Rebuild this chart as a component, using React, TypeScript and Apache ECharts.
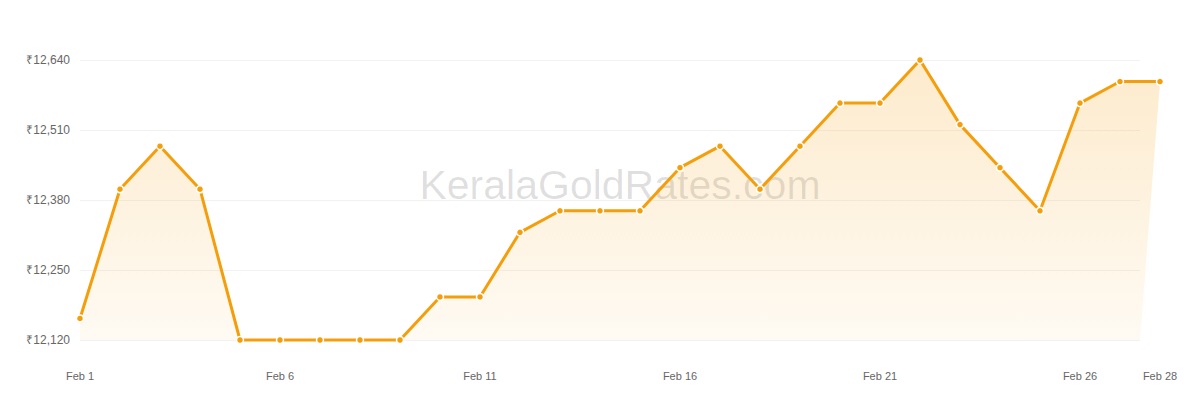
import { useEffect, useRef } from "react";
import * as echarts from "echarts";

// Gold price, 22K per gram, February
const days = [
  1, 2, 3, 4, 5, 6, 7, 8, 9, 10, 11, 12, 13, 14, 15, 16, 17, 18, 19, 20, 21,
  22, 23, 24, 25, 26, 27, 28,
];
const prices = [
  12160, 12400, 12480, 12400, 12120, 12120, 12120, 12120, 12120, 12200, 12200,
  12320, 12360, 12360, 12360, 12440, 12480, 12400, 12480, 12560, 12560, 12640,
  12520, 12440, 12360, 12560, 12600, 12600,
];
const yTicks = [12120, 12250, 12380, 12510, 12640];
const xTickDays = [1, 6, 11, 16, 21, 26, 28];
const monthName = "Feb";
const watermark = "KeralaGoldRates.com";

const FONT = "'Liberation Sans', Arial, Helvetica, sans-serif";
const GOLD = "#f59e0b";
const LABEL = "#666666";

export default function App() {
  const containerRef = useRef<HTMLDivElement>(null);

  useEffect(() => {
    if (!containerRef.current) return;
    const chart = echarts.init(containerRef.current, null, { renderer: "svg" });

    const points = days.map((d, i) => [d, prices[i]]);
    const yMin = yTicks[0];
    const yMax = yTicks[yTicks.length - 1];
    const firstDay = days[0];
    const lastDay = days[days.length - 1];
    // the gridlines stop half a day before the last point; the fill closes there
    const gridEnd = lastDay - 0.5;

    chart.setOption({
      animation: false,
      backgroundColor: "#ffffff",
      textStyle: { fontFamily: FONT },
      grid: [
        // y labels + gridlines
        { left: 80, right: 60, top: 60, bottom: 60 },
        // series + x labels
        { left: 80, right: 40, top: 60, bottom: 60 },
      ],
      graphic: [
        {
          type: "text",
          x: 620,
          y: 185,
          z: 0,
          silent: true,
          style: {
            text: watermark,
            fill: "rgba(0,0,0,0.13)",
            fontSize: 41,
            fontFamily: FONT,
            align: "center",
            verticalAlign: "middle",
          },
        },
      ],
      xAxis: [
        {
          type: "value",
          gridIndex: 0,
          min: firstDay,
          max: gridEnd,
          show: false,
        },
        {
          type: "value",
          gridIndex: 1,
          min: firstDay,
          max: lastDay,
          axisLine: { show: false },
          axisTick: { show: false, customValues: xTickDays },
          splitLine: { show: false },
          axisLabel: {
            customValues: xTickDays,
            showMinLabel: true,
            showMaxLabel: true,
            formatter: (v: number) => `${monthName} ${v}`,
            color: LABEL,
            fontSize: 11,
            fontFamily: FONT,
            margin: 30,
          },
        },
      ],
      yAxis: [
        {
          type: "value",
          gridIndex: 0,
          min: yMin,
          max: yMax,
          axisLine: { show: false },
          axisTick: { show: false, customValues: yTicks },
          axisLabel: {
            customValues: yTicks,
            showMinLabel: true,
            showMaxLabel: true,
            formatter: (v: number) => "₹" + v.toLocaleString("en-US"),
            color: LABEL,
            fontSize: 12,
            fontFamily: FONT,
            margin: 10,
          },
          splitLine: { lineStyle: { color: "#f2f2f2", width: 1 } },
        },
        {
          type: "value",
          gridIndex: 1,
          min: yMin,
          max: yMax,
          show: false,
          splitLine: { show: false },
        },
      ],
      series: [
        {
          name: "fill",
          type: "line",
          xAxisIndex: 1,
          yAxisIndex: 1,
          data: [...points, [gridEnd, yMin]],
          clip: false,
          silent: true,
          symbol: "none",
          lineStyle: { width: 0, opacity: 0 },
          areaStyle: {
            color: new echarts.graphic.LinearGradient(0, 0, 0, 1, [
              { offset: 0, color: "rgba(245,158,11,0.30)" },
              { offset: 1, color: "rgba(245,158,11,0.07)" },
            ]),
          },
          z: 1,
        },
        {
          name: "Rate",
          type: "line",
          xAxisIndex: 1,
          yAxisIndex: 1,
          data: points,
          clip: false,
          symbol: "circle",
          symbolSize: 7,
          showAllSymbol: true,
          itemStyle: { color: GOLD, borderColor: "#ffffff", borderWidth: 1.5 },
          lineStyle: { color: GOLD, width: 3 },
          z: 3,
        },
      ],
    });

    return () => chart.dispose();
  }, []);

  return (
    <div
      ref={containerRef}
      style={{ position: "fixed", left: 0, top: 0, width: 1200, height: 400 }}
    />
  );
}
